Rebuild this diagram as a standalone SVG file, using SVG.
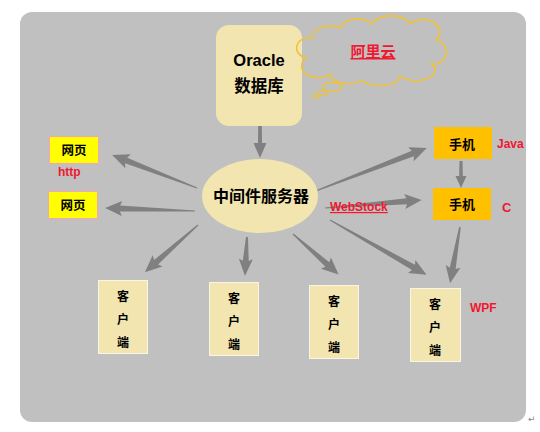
<svg xmlns="http://www.w3.org/2000/svg" width="540" height="432" viewBox="0 0 540 432">
<style>
.t{font-family:"Liberation Sans","Noto Sans CJK SC",sans-serif;font-weight:bold;fill:#000;text-anchor:middle}
.r{font-family:"Liberation Sans","Noto Sans CJK SC",sans-serif;font-weight:bold;fill:#F01830}
.cream{fill:#F2E5B0}
.cl{fill:#F2E5B0;stroke:#FAF6E6;stroke-width:1}
.yl{fill:#FFFF00;stroke:#F4A6B4;stroke-width:1}
.ph{fill:#FFC000}
.ar{fill:#808080}
</style>
<rect x="0" y="0" width="540" height="432" fill="#FFFFFF"/>
<rect x="20" y="12" width="506" height="410" rx="12" fill="#C0C0C0"/>

<g id="connectors">
<path class="ar" transform="translate(260,126) rotate(90)" d="M0,-1.8 L17,-2 L17,-6.5 L32,0 L17,6.5 L17,2 L0,1.8Z"/>
<path class="ar" transform="translate(197,188) rotate(201.2)" d="M0,-0.6 L76,-3 L74,-7.5 L91,0 L74,7.5 L76,3 L0,0.6Z"/>
<path class="ar" transform="translate(195,211) rotate(181.9)" d="M0,-0.6 L75,-3 L73,-7.5 L90,0 L73,7.5 L75,3 L0,0.6Z"/>
<path class="ar" transform="translate(198,225) rotate(138.4)" d="M0,-0.6 L56,-3 L54,-7.5 L71,0 L54,7.5 L56,3 L0,0.6Z"/>
<path class="ar" transform="translate(247,237) rotate(93)" d="M0,-1 L24,-3 L22,-7 L39,0 L22,7 L24,3 L0,1Z"/>
<path class="ar" transform="translate(293,234) rotate(41.6)" d="M0,-0.6 L46,-3 L44,-7.5 L61,0 L44,7.5 L46,3 L0,0.6Z"/>
<path class="ar" transform="translate(330,220) rotate(29.6)" d="M0,-0.6 L96,-3 L94,-7.5 L111,0 L94,7.5 L96,3 L0,0.6Z"/>
<path class="ar" transform="translate(313,192) rotate(-21.1)" d="M0,-0.6 L107,-3 L105,-7.5 L122,0 L105,7.5 L107,3 L0,0.6Z"/>
<path class="ar" transform="translate(325,208) rotate(-4.7)" d="M0,-0.6 L82,-3 L80,-7.5 L97,0 L80,7.5 L82,3 L0,0.6Z"/>
<path class="ar" transform="translate(461,161) rotate(90)" d="M0,-1.5 L15,-1.8 L15,-5.5 L27,0 L15,5.5 L15,1.8 L0,1.5Z"/>
<path class="ar" transform="translate(460,227) rotate(100)" d="M0,-0.8 L42,-3 L40,-7.5 L57,0 L40,7.5 L42,3 L0,0.8Z"/>
</g>

<g id="oracle">
<rect class="cream" x="216" y="25" width="86" height="101" rx="13"/>
<text class="t" x="259" y="66" font-size="16.5">Oracle</text>
<text class="t" x="259" y="92" font-size="16.5">数据库</text>
</g>

<g id="cloud">
<path d="M306,58 A12,10 0 0 1 312,38 A18,12 0 0 1 340,28 A18,12 0 0 1 372,24 A20,12 0 0 1 410,24 A16,12 0 0 1 436,40 A12,12 0 0 1 432,64 A18,10 0 0 1 400,76 A20,10 0 0 1 362,80 A18,10 0 0 1 330,74 A14,10 0 0 1 306,58Z" fill="none" stroke="#F2C12E" stroke-width="1.5"/>
<ellipse cx="332" cy="87" rx="10" ry="4.5" fill="none" stroke="#F2C12E" stroke-width="1.3"/>
<ellipse cx="323" cy="93" rx="5" ry="2.5" fill="none" stroke="#F2C12E" stroke-width="1.2"/>
<ellipse cx="316" cy="96" rx="4" ry="2" fill="none" stroke="#F2C12E" stroke-width="1.2"/>
<text class="r" x="373" y="57" font-size="15" text-anchor="middle" font-weight="normal" text-decoration="underline">阿里云</text>
</g>

<g id="middleware">
<ellipse class="cream" cx="260" cy="196" rx="58" ry="37"/>
<text class="t" x="261" y="202" font-size="16">中间件服务器</text>
</g>

<g id="web1">
<rect class="yl" x="49.5" y="136.5" width="49" height="27"/>
<text class="t" x="74" y="155" font-size="12.5">网页</text>
</g>
<text class="r" x="58" y="176" font-size="12">http</text>

<g id="web2">
<rect class="yl" x="48.5" y="191.5" width="49" height="27"/>
<text class="t" x="73" y="210" font-size="12.5">网页</text>
</g>

<g id="phone1">
<rect class="ph" x="434" y="127" width="58" height="32"/>
<text class="t" x="462" y="149" font-size="13">手机</text>
</g>
<text class="r" x="497" y="148" font-size="12">Java</text>

<g id="phone2">
<rect class="ph" x="433" y="188" width="58" height="32"/>
<text class="t" x="462" y="209" font-size="13">手机</text>
</g>
<text class="r" x="502" y="212" font-size="13">C</text>

<text class="r" x="330" y="211" font-size="12" text-decoration="underline">WebStock</text>

<g id="client1">
<rect class="cl" x="98.5" y="280.5" width="49" height="73"/>
<text class="t" x="123" y="301" font-size="12">客</text>
<text class="t" x="123" y="324" font-size="12">户</text>
<text class="t" x="123" y="347" font-size="12">端</text>
</g>
<g id="client2">
<rect class="cl" x="209.5" y="282.5" width="49" height="73"/>
<text class="t" x="234" y="303" font-size="12">客</text>
<text class="t" x="234" y="326" font-size="12">户</text>
<text class="t" x="234" y="349" font-size="12">端</text>
</g>
<g id="client3">
<rect class="cl" x="309.5" y="285.5" width="49" height="73"/>
<text class="t" x="334" y="306" font-size="12">客</text>
<text class="t" x="334" y="329" font-size="12">户</text>
<text class="t" x="334" y="352" font-size="12">端</text>
</g>
<g id="client4">
<rect class="cl" x="410.5" y="288.5" width="50" height="73"/>
<text class="t" x="435" y="309" font-size="12">客</text>
<text class="t" x="435" y="332" font-size="12">户</text>
<text class="t" x="435" y="355" font-size="12">端</text>
</g>
<text class="r" x="470" y="312" font-size="12">WPF</text>
<text x="528" y="422" font-family="'DejaVu Sans',sans-serif" font-size="9" fill="#888">↵</text>
</svg>
